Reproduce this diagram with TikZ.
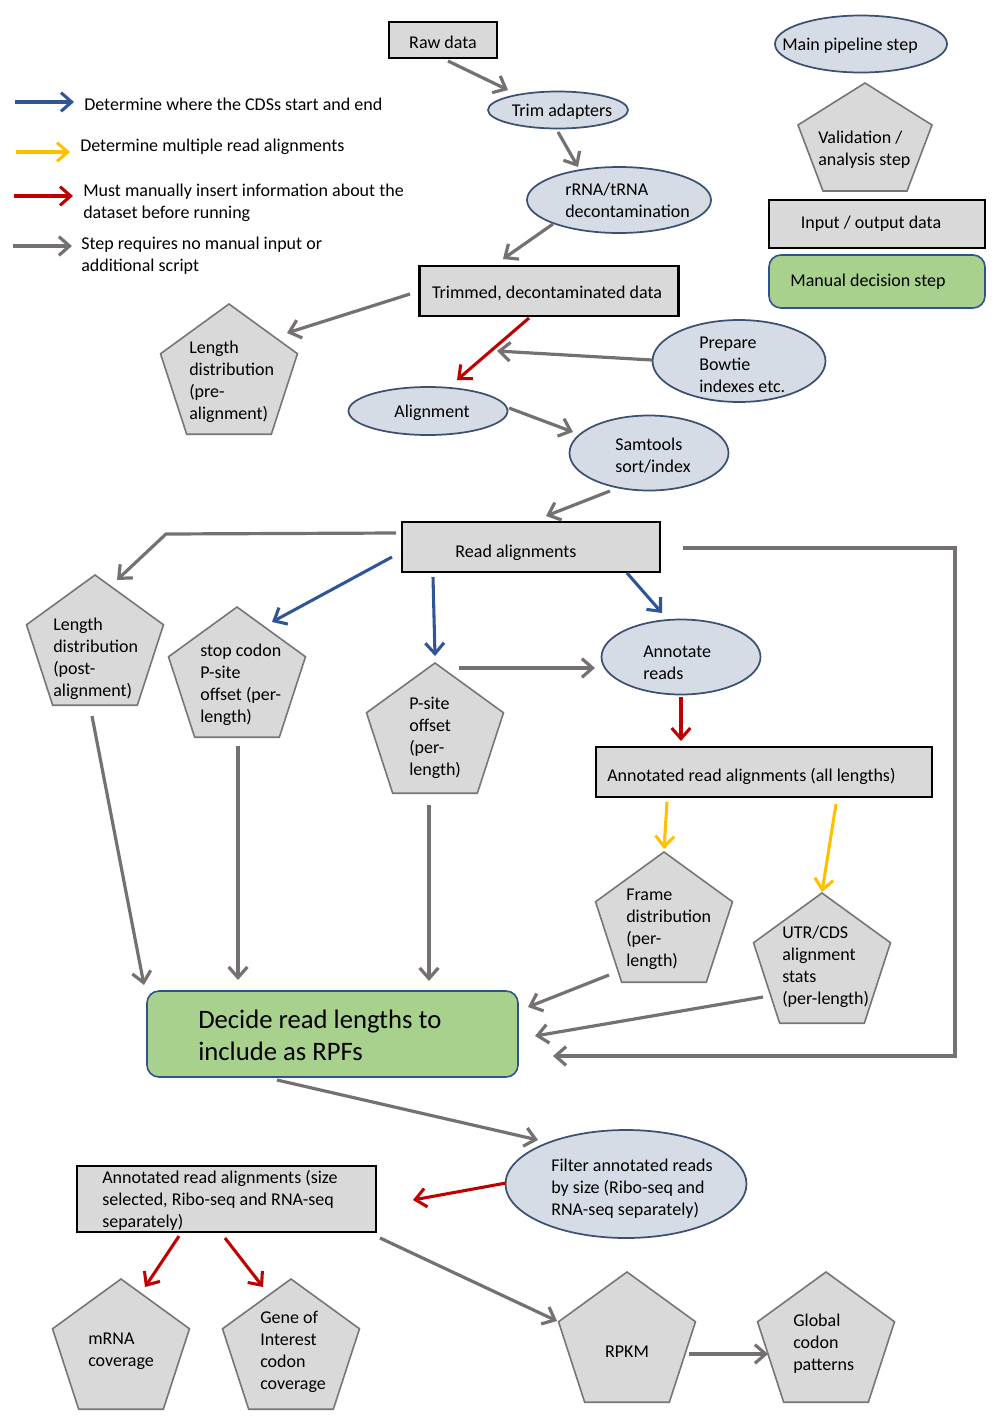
\documentclass[tikz,border=0pt]{standalone}
\usepackage{fontspec}
\setmainfont{Carlito}
\usetikzlibrary{shapes.geometric,arrows.meta,calc}
\definecolor{garr}{RGB}{118,113,113}
\definecolor{barr}{RGB}{47,85,151}
\definecolor{yarr}{RGB}{255,192,0}
\definecolor{rarr}{RGB}{192,0,0}
\definecolor{ellfill}{RGB}{214,220,229}
\definecolor{elldraw}{RGB}{60,80,112}
\definecolor{boxfill}{RGB}{217,217,217}
\definecolor{pentdraw}{RGB}{118,118,118}
\definecolor{greenfill}{RGB}{169,209,142}
\definecolor{greendraw}{RGB}{47,82,143}
\tikzset{
  conn/.style={line width=2.4pt,-{Straight Barb[length=8pt,width=14pt]}},
  gconn/.style={conn,draw=garr},
  bconn/.style={conn,draw=barr,line width=2.3pt},
  yconn/.style={conn,draw=yarr,line width=2.3pt},
  rconn/.style={conn,draw=rarr,line width=2.3pt},
  ell/.style={ellipse,draw=elldraw,fill=ellfill,line width=1.3pt,inner sep=0pt},
  databox/.style={rectangle,draw=black,fill=boxfill,line width=1.8pt,inner sep=0pt},
  decbox/.style={rectangle,rounded corners=9pt,draw=greendraw,fill=greenfill,line width=1.2pt,inner sep=0pt},
  pent/.style={regular polygon,regular polygon sides=5,minimum size=108pt,inner sep=0pt,draw=pentdraw,fill=boxfill,line width=1.2pt},
  txt/.style={inner sep=0pt,font=\fontsize{13.5}{16.5}\selectfont,align=left,text=black,yshift=-1pt},
  ltxt/.style={txt,anchor=west},
}
\begin{document}
\begin{tikzpicture}[x=0.75pt,y=-0.75pt]
\useasboundingbox (0,0) rectangle (1000,1425);
% ---------- legend (left) ----------
\coordinate (lb1) at (15,102); \coordinate (lb2) at (74,102);
\coordinate (ly1) at (16,152); \coordinate (ly2) at (70,152);
\coordinate (lr1) at (14,196); \coordinate (lr2) at (73,196);
\coordinate (lg1) at (13,246); \coordinate (lg2) at (72,246);
\draw[bconn] (lb1) -- (lb2);
\draw[yconn] (ly1) -- (ly2);
\draw[rconn] (lr1) -- (lr2);
\draw[gconn] (lg1) -- (lg2);
\node[ltxt] (lbt) at (84,103) {Determine where the CDSs start and end};
\node[ltxt] (lyt) at (80,145) {Determine multiple read alignments};
\node[ltxt] (lrt) at (83,201) {Must manually insert information about the\\dataset before running};
\node[ltxt] (lgt) at (81,254) {Step requires no manual input or\\additional script};
% ---------- legend (right) ----------
\node[ell,minimum width=129pt,minimum height=42.75pt] (main) at (861,44) {};
\node[txt] (maint) at (850,44) {Main pipeline step};
\draw[draw=pentdraw,fill=boxfill,line width=1.2pt] (865,83) -- (932,125) -- (907,191) -- (823,191) -- (798,125) -- cycle;
\node[ltxt] (validt) at (818,148) {Validation /\\analysis step};
\node[databox,minimum width=162pt,minimum height=36pt] (io) at (877,224) {};
\node[txt] (iot) at (871,222) {Input / output data};
\node[decbox,minimum width=162pt,minimum height=39.75pt] (manual) at (877,281.5) {};
\node[txt] (manualt) at (868,280) {Manual decision step};
% ---------- main pipeline ----------
\node[databox,minimum width=81pt,minimum height=27pt] (raw) at (443,40) {};
\node[txt] (rawt) at (443,41) {Raw data};
\node[ell,minimum width=105pt,minimum height=27.75pt] (trim) at (558,110) {};
\node[txt] (trimt) at (562,110) {Trim adapters};
\node[ell,minimum width=138pt,minimum height=49.5pt] (rrna) at (619,200) {};
\node[ltxt] (rrnat) at (565,199) {rRNA/tRNA\\decontamination};
\node[databox,minimum width=194.25pt,minimum height=37.5pt] (trimmed) at (549,291) {};
\node[txt] (trimmedt) at (547,292) {Trimmed, decontaminated data};
\node[pent] (pre) at (229,376) {};
\node[ltxt] (pret) at (189,380) {Length\\distribution\\(pre-\\alignment)};
\node[ell,minimum width=129.75pt,minimum height=61.5pt] (prep) at (739,361) {};
\node[ltxt] (prept) at (699,363) {Prepare\\Bowtie\\indexes etc.};
\node[ell,minimum width=119.25pt,minimum height=36pt] (align) at (428,411) {};
\node[txt] (alignt) at (432,411) {Alignment};
\node[ell,minimum width=119.25pt,minimum height=56.25pt] (sam) at (649,453) {};
\node[ltxt] (samt) at (615,454) {Samtools\\sort/index};
\node[databox,minimum width=193.5pt,minimum height=37.5pt] (reads) at (531,547) {};
\node[txt] (readst) at (516,551) {Read alignments};
\node[pent] (post) at (95,647) {};
\node[ltxt] (postt) at (53,657) {Length\\distribution\\(post-\\alignment)};
\node[pent] (stop) at (237,679) {};
\node[ltxt] (stopt) at (200,683) {stop codon\\P-site\\offset (per-\\length)};
\node[pent] (psite) at (435,735) {};
\node[ltxt] (psitet) at (409,737) {P-site\\offset\\(per-\\length)};
\node[ell,minimum width=119.25pt,minimum height=56.25pt] (annot) at (681,657) {};
\node[ltxt] (annott) at (643,661) {Annotate\\reads};
\node[databox,minimum width=252pt,minimum height=37.5pt] (annall) at (764,772) {};
\node[ltxt] (annallt) at (607,775) {Annotated read alignments (all lengths)};
\node[pent] (frame) at (664,924) {};
\node[ltxt] (framet) at (626,928) {Frame\\distribution\\(per-\\length)};
\node[pent] (utr) at (822,965) {};
\node[ltxt] (utrt) at (782,965) {UTR/CDS\\alignment\\stats\\(per-length)};
\node[decbox,minimum width=278.25pt,minimum height=64.5pt] (decide) at (332.5,1034) {};
\node[ltxt,font=\fontsize{20}{24}\selectfont] (decidet) at (198,1034) {Decide read lengths to\\include as RPFs};
\node[ell,minimum width=180.75pt,minimum height=81pt] (filter) at (626,1184) {};
\node[ltxt] (filtert) at (551,1187) {Filter annotated reads\\by size (Ribo-seq and\\RNA-seq separately)};
\node[databox,minimum width=224.25pt,minimum height=49.5pt] (annsize) at (226.5,1199) {};
\node[ltxt] (annsizet) at (102,1199) {Annotated read alignments (size\\selected, Ribo-seq and RNA-seq\\separately)};
\node[pent] (mrna) at (121,1351) {};
\node[ltxt] (mrnat) at (88,1350) {mRNA\\coverage};
\node[pent] (gene) at (291,1351) {};
\node[ltxt] (genet) at (260,1351) {Gene of\\Interest\\codon\\coverage};
\node[pent] (rpkm) at (627,1344) {};
\node[txt] (rpkmt) at (627,1350) {RPKM};
\node[pent] (glob) at (826,1344) {};
\node[ltxt] (globt) at (793,1342) {Global\\codon\\patterns};
% ---------- connectors ----------
\draw[gconn] ($(raw)+(5,21)$) -- ($(trim)+(-50,-20)$);
\draw[gconn] ($(trim)+(0,22)$) -- ($(rrna)+(-41,-33)$);
\draw[gconn] ($(rrna)+(-66,24)$) -- ($(trimmed)+(-46,-32)$);
\draw[gconn] ($(trimmed)+(-139,3)$) -- ($(pre)+(58,-43)$);
\draw[rconn] ($(trimmed)+(-20,27)$) -- ($(align)+(29,-31)$);
\coordinate (redjoin) at (497,351);
\draw[gconn] ($(prep)+(-87,-1)$) -- (redjoin);
\draw[gconn] ($(align)+(81,-3)$) -- ($(sam)+(-76,-21)$);
\draw[gconn] ($(sam)+(-39,38)$) -- ($(reads)+(15,-31)$);
\draw[gconn] ($(reads)+(-135,-14)$) -- ($(post)+(71,-113)$) -- ($(post)+(22,-67)$);
\draw[bconn] ($(reads)+(-139,10)$) -- ($(stop)+(35,-57)$);
\draw[bconn] ($(reads)+(-98,30)$) -- ($(psite)+(0,-79)$);
\draw[bconn] ($(reads)+(96,26)$) -- ($(annot)+(-19,-44)$);
\draw[gconn] ($(psite)+(24,-67)$) -- ($(annot)+(-86,11)$);
\draw[rconn] ($(annot)+(0,40)$) -- ($(annall)+(-83,-31)$);
\draw[gconn] ($(reads)+(152,1)$) -- (955,548) -- (955,1056) -- ($(decide)+(220.5,22)$);
\draw[yconn] ($(annall)+(-97,30)$) -- ($(frame)+(0,-75)$);
\draw[yconn] ($(annall)+(72,32)$) -- ($(utr)+(0,-73)$);
\draw[gconn] ($(frame)+(-55,51)$) -- ($(decide)+(195.5,-27)$);
\draw[gconn] ($(utr)+(-59,32)$) -- ($(decide)+(202.5,2)$);
\draw[gconn] ($(post)+(-3,69)$) -- ($(decide)+(-188.5,-49)$);
\draw[gconn] ($(stop)+(1,67)$) -- ($(decide)+(-94.5,-54)$);
\draw[gconn] ($(psite)+(-6,70)$) -- ($(decide)+(96.5,-53)$);
\draw[gconn] ($(decide)+(-55.5,46)$) -- ($(filter)+(-88,-44)$);
\draw[rconn] ($(filter)+(-120,-1)$) -- ($(annsize)+(186.5,1)$);
\draw[rconn] ($(annsize)+(-47.5,37)$) -- ($(mrna)+(24,-64)$);
\draw[rconn] ($(annsize)+(-1.5,39)$) -- ($(gene)+(-28,-64)$);
\draw[gconn] ($(annsize)+(153.5,39)$) -- ($(rpkm)+(-70,-23)$);
\draw[gconn] ($(rpkm)+(62,10)$) -- ($(glob)+(-58,10)$);
\end{tikzpicture}
\end{document}
